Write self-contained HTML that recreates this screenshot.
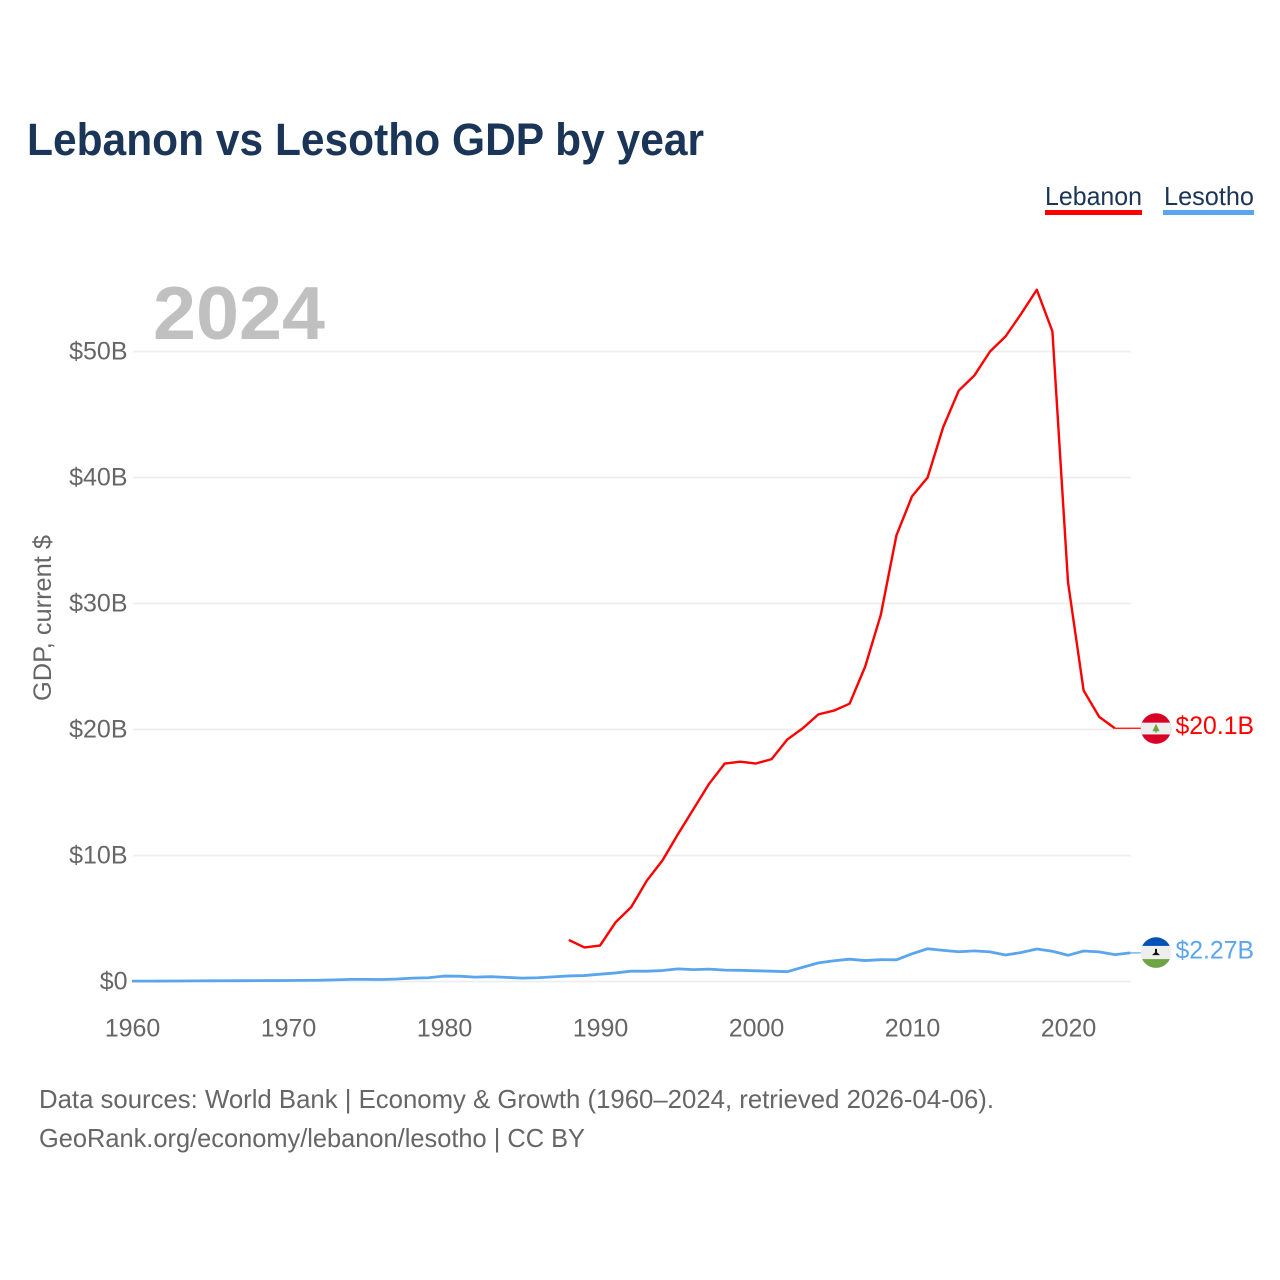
<!DOCTYPE html>
<html lang="en">
<head>
<meta charset="utf-8">
<title>Lebanon vs Lesotho GDP by year</title>
<style>
html,body{margin:0;padding:0;background:#fff;}
svg{display:block;font-family:"Liberation Sans",sans-serif;}
</style>
</head>
<body>
<svg id="chart" xmlns="http://www.w3.org/2000/svg" width="1280" height="1280" viewBox="0 0 1280 1280">
  <text x="27" y="155" font-size="45" font-weight="700" fill="#1a3557" textLength="677" lengthAdjust="spacingAndGlyphs">Lebanon vs Lesotho GDP by year</text>
  <g>
    <g>
      <text x="1045" y="205" font-size="26" fill="#1a3557" textLength="97" lengthAdjust="spacingAndGlyphs">Lebanon</text>
      <rect x="1045" y="210" width="97" height="5" fill="#ff0000"/>
    </g>
    <g>
      <text x="1164" y="205" font-size="26" fill="#1a3557" textLength="90" lengthAdjust="spacingAndGlyphs">Lesotho</text>
      <rect x="1163" y="210" width="91" height="5" fill="#5ba5ec"/>
    </g>
  </g>
  <g id="grid"></g>
  <g id="yticks"></g>
  <g id="xticks"></g>
  <text x="153" y="339" font-size="75" font-weight="700" fill="#c0c0c0" textLength="172" lengthAdjust="spacingAndGlyphs">2024</text>
  <text transform="translate(51,701) rotate(-90)" font-size="25" fill="#666666" textLength="166" lengthAdjust="spacingAndGlyphs">GDP, current $</text>
  <g id="series"></g>
  <g id="ends"></g>
  <text x="39" y="1108" font-size="26" fill="#666666" textLength="955" lengthAdjust="spacingAndGlyphs">Data sources: World Bank | Economy &amp; Growth (1960–2024, retrieved 2026-04-06).</text>
  <text x="39" y="1147" font-size="26" fill="#666666" textLength="546" lengthAdjust="spacingAndGlyphs">GeoRank.org/economy/lebanon/lesotho | CC BY</text>
</svg>
<script>
const yTickValues = [0, 10, 20, 30, 40, 50];
const yTickLabels = ['$0', '$10B', '$20B', '$30B', '$40B', '$50B'];
const xTickYears = [1960, 1970, 1980, 1990, 2000, 2010, 2020];
const lebanonStartYear = 1988;
const lebanonValues = [3.3, 2.7, 2.85, 4.7, 5.9, 8.0, 9.6, 11.7, 13.7, 15.7, 17.3, 17.45, 17.3, 17.65, 19.2, 20.1, 21.2, 21.5, 22.05, 25.0, 29.1, 35.4, 38.5, 40.0, 44.0, 46.9, 48.1, 50.0, 51.2, 53.0, 54.9, 51.6, 31.7, 23.1, 21.0, 20.1];
const lesothoStartYear = 1960;
const lesothoValues = [0.03, 0.03, 0.035, 0.04, 0.05, 0.055, 0.06, 0.065, 0.07, 0.075, 0.08, 0.09, 0.1, 0.13, 0.17, 0.17, 0.16, 0.2, 0.27, 0.3, 0.43, 0.42, 0.35, 0.38, 0.33, 0.27, 0.3, 0.37, 0.44, 0.47, 0.58, 0.68, 0.82, 0.82, 0.87, 1.0, 0.94, 0.98, 0.9, 0.89, 0.85, 0.82, 0.78, 1.13, 1.48, 1.65, 1.77, 1.66, 1.73, 1.72, 2.2, 2.6, 2.47, 2.36, 2.43, 2.35, 2.1, 2.3, 2.58, 2.4, 2.08, 2.42, 2.35, 2.13, 2.27];
const lebanonEndLabel = '$20.1B';
const lesothoEndLabel = '$2.27B';

const NS = 'http://www.w3.org/2000/svg';
const xScale = function (year) { return 132 + (year - 1960) * 15.6; };
const yScale = function (value) { return 981.5 - value * 12.6; };
const flagX = 1156;
const make = function (tag, parent) {
  const el = document.createElementNS(NS, tag);
  parent.appendChild(el);
  return el;
};
const setAll = function (el, props) {
  Object.keys(props).forEach(function (k) { el.setAttribute(k, props[k]); });
};

const grid = document.getElementById('grid');
const yticks = document.getElementById('yticks');
yTickValues.forEach(function (v, i) {
  const line = make('line', grid);
  
  
  setAll(line, {x1: 133, x2: 1131, y1: yScale(v), y2: yScale(v), stroke: '#eeeeee', 'stroke-width': 1.7});
  const label = make('text', yticks);
  
  
  setAll(label, {x: 127.5, y: yScale(v) + 8, 'text-anchor': 'end', 'font-size': 25, fill: '#666666'});
  label.textContent = yTickLabels[i];
});

const xticks = document.getElementById('xticks');
xTickYears.forEach(function (yr) {
  const label = make('text', xticks);
  
  
  setAll(label, {x: xScale(yr) + 0.5, y: 1036.5, 'text-anchor': 'middle', 'font-size': 25, fill: '#666666'});
  label.textContent = String(yr);
});

const series = document.getElementById('series');
const pathFor = function (startYear, values) {
  return values.map(function (v, i) {
    return (i ? 'L' : 'M') + xScale(startYear + i).toFixed(2) + ' ' + yScale(v).toFixed(2);
  }).join(' ');
};
const redLine = make('path', series);


setAll(redLine, {d: pathFor(lebanonStartYear, lebanonValues), fill: 'none', stroke: '#ff0000', 'stroke-width': 2.4, 'stroke-linejoin': 'round'});
const blueLine = make('path', series);


setAll(blueLine, {d: pathFor(lesothoStartYear, lesothoValues), fill: 'none', stroke: '#5ba5ec', 'stroke-width': 2.8, 'stroke-linejoin': 'round'});

const ends = document.getElementById('ends');
const defs = make('defs', ends);

/* Lebanon end marker */
const lebLastX = xScale(lebanonStartYear + lebanonValues.length - 1);
const lebY = yScale(lebanonValues[lebanonValues.length - 1]);
const lebLead = make('line', ends);


setAll(lebLead, {x1: lebLastX, x2: flagX - 15, y1: lebY, y2: lebY, stroke: '#ff0000', 'stroke-width': 1.2});
const lebClip = make('clipPath', defs);
lebClip.setAttribute('id', 'clip-leb');
setAll(make('circle', lebClip), {cx: flagX, cy: lebY + 0.3, r: 15.3});
const lebFlag = make('g', ends);


lebFlag.setAttribute('clip-path', 'url(#clip-leb)');
setAll(make('rect', lebFlag), {x: flagX - 16, y: lebY - 16, width: 32, height: 32, fill: '#d80027'});
setAll(make('rect', lebFlag), {x: flagX - 16, y: lebY - 5.6, width: 32, height: 11.8, fill: '#eeeeee'});
setAll(make('polygon', lebFlag), {points: [flagX, lebY - 4.5, flagX + 3.6, lebY + 3, flagX - 3.6, lebY + 3].join(' '), fill: '#6da544'});
setAll(make('rect', lebFlag), {x: flagX - 0.7, y: lebY + 2.5, width: 1.4, height: 2, fill: '#6da544'});
const lebText = make('text', ends);


setAll(lebText, {x: 1175.5, y: lebY + 6, 'font-size': 25, fill: '#ff0000', textLength: 78.5, lengthAdjust: 'spacingAndGlyphs'});
lebText.textContent = lebanonEndLabel;

/* Lesotho end marker */
const lesLastX = xScale(lesothoStartYear + lesothoValues.length - 1);
const lesY = yScale(lesothoValues[lesothoValues.length - 1]);
const lesLead = make('line', ends);


setAll(lesLead, {x1: lesLastX, x2: flagX - 15, y1: lesY, y2: lesY, stroke: '#5ba5ec', 'stroke-width': 1.2});
const lesClip = make('clipPath', defs);
lesClip.setAttribute('id', 'clip-les');
setAll(make('circle', lesClip), {cx: flagX, cy: lesY - 0.3, r: 15.3});
const lesFlag = make('g', ends);


lesFlag.setAttribute('clip-path', 'url(#clip-les)');
setAll(make('rect', lesFlag), {x: flagX - 16, y: lesY - 17, width: 32, height: 34, fill: '#eeeeee'});
setAll(make('rect', lesFlag), {x: flagX - 16, y: lesY - 17, width: 32, height: 10, fill: '#0052b4'});
setAll(make('rect', lesFlag), {x: flagX - 16, y: lesY + 6.2, width: 32, height: 11, fill: '#6da544'});
setAll(make('polygon', lesFlag), {points: [flagX - 1, lesY - 4, flagX + 1, lesY - 4, flagX + 1, lesY - 0.5, flagX + 4, lesY + 2.2, flagX - 4, lesY + 2.2, flagX - 1, lesY - 0.5].join(' '), fill: '#111111'});
const lesText = make('text', ends);


setAll(lesText, {x: 1175.5, y: lesY + 5.5, 'font-size': 25, fill: '#5ba5ec', textLength: 78.5, lengthAdjust: 'spacingAndGlyphs'});
lesText.textContent = lesothoEndLabel;
</script>
</body>
</html>
